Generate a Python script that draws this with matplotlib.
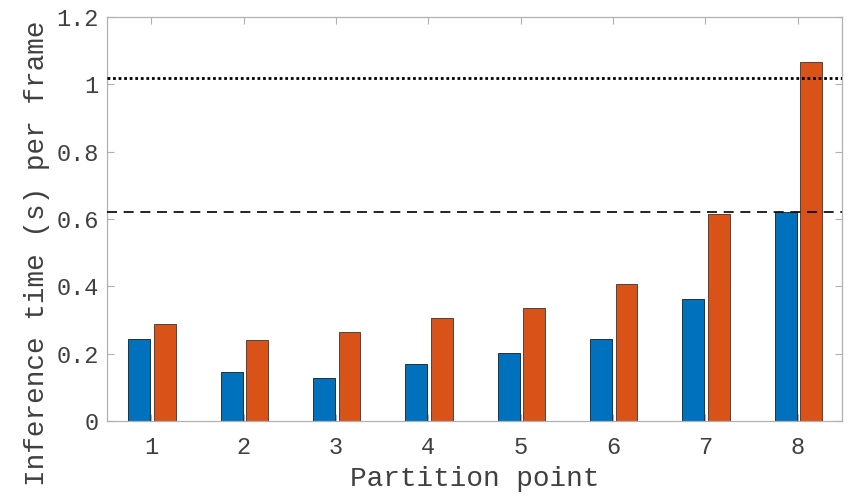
import numpy as np
import matplotlib
matplotlib.use("Agg")
import matplotlib.pyplot as plt

# partition points and inference time per frame (s)
partition_points = [1, 2, 3, 4, 5, 6, 7, 8]
time_blue = [0.244, 0.145, 0.129, 0.170, 0.202, 0.243, 0.362, 0.622]
time_orange = [0.287, 0.240, 0.263, 0.307, 0.337, 0.407, 0.615, 1.066]
dashed_level = 0.622
dotted_level = 1.020
y_ticks = [0, 0.2, 0.4, 0.6, 0.8, 1.0, 1.2]
y_tick_labels = ["0", "0.2", "0.4", "0.6", "0.8", "1", "1.2"]

plt.rcParams["font.family"] = ["Liberation Mono", "DejaVu Sans Mono"]
text_col = "#404040"

fig = plt.figure(figsize=(8.56, 4.96), dpi=100)
ax = fig.add_axes([107 / 856, 1 - 421 / 496, 735 / 856, 404 / 496])

x = np.array(partition_points)
w = 0.235
ax.bar(x - 0.13, time_blue, width=w, color="#0072BD",
       edgecolor="#1a1a1a", linewidth=0.6, zorder=2)
ax.bar(x + 0.145, time_orange, width=w, color="#D95319",
       edgecolor="#333333", linewidth=0.6, zorder=2)

ax.axhline(dashed_level, color="black", linestyle=(0, (6, 4)), linewidth=1.2, zorder=3)
ax.axhline(dotted_level, color="black", linestyle=(0, (1, 1)), linewidth=2, zorder=3)

ax.set_xlim(0.52, 8.48)
ax.set_ylim(0, 1.2)
ax.set_xticks(partition_points)
ax.set_xticklabels([str(p) for p in partition_points])
ax.set_yticks(y_ticks)
ax.set_yticklabels(y_tick_labels)

ax.tick_params(direction="in", length=5, width=0.8, color="#b0b0b0",
               labelcolor=text_col, labelsize=17, top=True, right=True, pad=6)
ax.tick_params(axis="x", pad=11)
for s in ax.spines.values():
    s.set_color("#b0b0b0")
    s.set_linewidth(0.9)

ax.set_xlabel("Partition point", fontsize=20, color=text_col, labelpad=5)
ax.set_ylabel("Inference time (s) per frame", fontsize=20, color=text_col)
ax.yaxis.set_label_coords(-0.078, 0.415)

fig.savefig("out.png", dpi=100)
